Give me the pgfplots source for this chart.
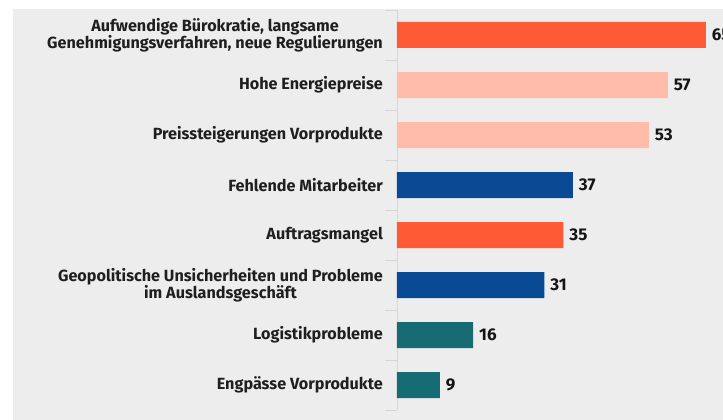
\documentclass[border=0pt]{standalone}
\usepackage{fontspec}
\setmainfont{Fira Sans}
\usepackage{pgfplots}
\pgfplotsset{compat=1.18}
\definecolor{cRed}{HTML}{FF5A36}
\definecolor{cSalmon}{HTML}{FFBCAA}
\definecolor{cBlue}{HTML}{0A4A94}
\definecolor{cTeal}{HTML}{176C74}
\definecolor{cBg}{HTML}{EDEDED}
\definecolor{cAxis}{HTML}{D6D6D6}
\begin{document}
\begin{tikzpicture}[x=1pt,y=1pt]
\useasboundingbox (0,0) rectangle (723,420);
\fill[white] (0,0) rectangle (723,420);
\fill[cBg] (13,0) rectangle (723,411);
\begin{axis}[
  at={(397pt,10pt)}, anchor=south west,
  scale only axis, width=326pt, height=400pt,
  xmin=0, xmax=68.63, ymin=-0.5, ymax=7.5,
  y dir=reverse,
  axis x line=none,
  axis y line*=left,
  y axis line style={cAxis, line width=0.8pt, -},
  ytick={0,...,7},
  minor ytick={-0.5,0.5,...,7.5},
  major tick length=0pt, minor tick length=12pt,
  tick align=outside,
  minor tick style={cAxis, line width=0.8pt},
  yticklabels={{Aufwendige Bürokratie, langsame\\Genehmigungsverfahren, neue Regulierungen},
    {Hohe Energiepreise},{Preissteigerungen Vorprodukte},{Fehlende Mitarbeiter},
    {Auftragsmangel},{Geopolitische Unsicherheiten und Probleme\\im Auslandsgeschäft},
    {Logistikprobleme},{Engpässe Vorprodukte}},
  yticklabel style={align=center, inner sep=0pt, xshift=-14pt,
    font=\fontsize{16.2}{17.5}\selectfont\bfseries, text=black!88},
  xbar, bar width=26pt, bar shift=0pt,
  nodes near coords={\pgfmathprintnumber{\pgfplotspointmeta}},
  /pgf/number format/assume math mode=true,
  nodes near coords style={anchor=west, inner sep=0pt, xshift=6pt,
    font=\fontsize{17}{18}\selectfont\bfseries, text=black!92},
  point meta=explicit,
  clip=false,
]
\addplot[draw=none, fill=cRed] coordinates {(65,0) [65] (35,4) [35]};
\addplot[draw=none, fill=cSalmon] coordinates {(57,1) [57] (53,2) [53]};
\addplot[draw=none, fill=cBlue] coordinates {(37,3) [37] (31,5) [31]};
\addplot[draw=none, fill=cTeal] coordinates {(16,6) [16] (9,7) [9]};
\end{axis}
\end{tikzpicture}
\end{document}
